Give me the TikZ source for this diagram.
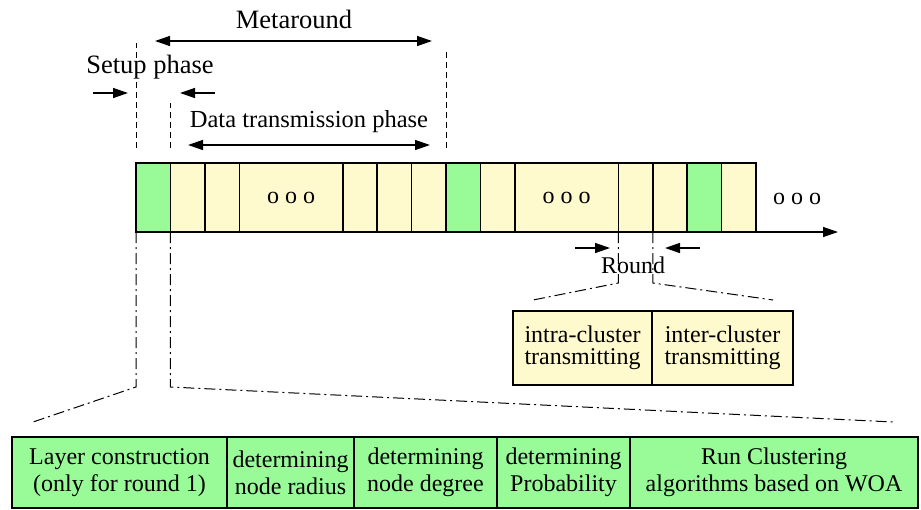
\documentclass[tikz,border=0pt]{standalone}
\usepackage{fontspec}
\setmainfont{Liberation Serif}
\usetikzlibrary{arrows.meta,positioning}
\definecolor{slotgreen}{RGB}{152,251,152}
\definecolor{slotyellow}{RGB}{255,250,205}
\tikzset{
    slot/.style={
           rectangle,
           draw=black, line width=1.6pt,
           fill=slotyellow,
           minimum width=34.45pt,
           minimum height=69pt,
           inner sep=0pt, outer sep=0pt,
           },
    setup/.style={slot, fill=slotgreen},
    wideslot/.style={slot, minimum width=103.35pt},
    cell/.style={
           rectangle,
           draw=black, line width=1.4pt,
           inner sep=0pt, outer sep=0pt,
           align=center,
           },
    phasecell/.style={cell, fill=slotgreen, minimum height=71pt},
    partcell/.style={cell, fill=slotyellow, minimum height=74pt,
           font=\fontsize{24pt}{22pt}\selectfont},
    bigtext/.style={font=\fontsize{26.5pt}{30pt}\selectfont},
    guide/.style={line width=1pt, dash pattern=on 6pt off 4pt},
    zoomline/.style={line width=1pt, dash pattern=on 11pt off 4pt on 2pt off 4pt},
}

\begin{document}
\begin{tikzpicture}[x=1pt, y=-1pt, >={Stealth[inset=0pt,length=15pt,width=10pt]},
    font=\fontsize{24pt}{27pt}\selectfont]
        \useasboundingbox (0,0) rectangle (921,509);

        % TIME LINE: one metaround after another
        \node[setup, anchor=north west] (s1) at (136,163) {};
        \node[slot, right=0pt of s1] (s2) {};
        \node[slot, right=0pt of s2] (s3) {};
        \node[wideslot, right=0pt of s3] (s4) {o o o};
        \node[slot, right=0pt of s4] (s5) {};
        \node[slot, right=0pt of s5] (s6) {};
        \node[slot, right=0pt of s6] (s7) {};
        % next metaround
        \node[setup, right=0pt of s7] (s8) {};
        \node[slot, right=0pt of s8] (s9) {};
        \node[wideslot, right=0pt of s9] (s10) {o o o};
        \node[slot, right=0pt of s10] (s11) {};
        \node[slot, right=0pt of s11] (s12) {};
        \node[setup, right=0pt of s12] (s13) {};
        \node[slot, right=0pt of s13] (s14) {};

        \coordinate (tend) at (838,232);
        \draw[->, line width=1.4pt] (s14.south east) -- (tend);
        \node (more) at (797,199) {o o o};

        % METAROUND
        \node[bigtext] (meta) at (294,19) {Metaround};
        \coordinate (metaL) at (155,41);
        \coordinate (metaR) at (432,41);
        \draw[<->, line width=1.4pt] (metaL) -- (metaR);
        \draw[guide] ([yshift=15pt]s1.north west) -- ([yshift=120pt]s1.north west);
        \draw[guide] ([yshift=15pt]s8.north west) -- ([yshift=113pt]s8.north west);
        \draw[guide] ([yshift=15pt]s2.north west) -- ([yshift=60pt]s2.north west);

        % SETUP PHASE
        \node[bigtext] (setuptxt) at (150,67) {Setup phase};
        \coordinate (su1) at (93,93);
        \coordinate (su2) at (128,93);
        \coordinate (su3) at (215,93);
        \coordinate (su4) at (180,93);
        \draw[->, line width=1.4pt] (su1) -- (su2);
        \draw[->, line width=1.4pt] (su3) -- (su4);

        % DATA TRANSMISSION PHASE
        \node[font=\fontsize{24.5pt}{28pt}\selectfont] (datatxt) at (309,122)
            {Data transmission phase};
        \coordinate (dtL) at (188,145);
        \coordinate (dtR) at (430,145);
        \draw[<->, line width=1.4pt] (dtL) -- (dtR);

        % ROUND
        \node (round) at (633,265) {Round};
        \coordinate (ra1) at (575,248);
        \coordinate (ra2) at (610,248);
        \coordinate (ra3) at (700,248);
        \coordinate (ra4) at (665,248);
        \draw[->, line width=1.4pt] (ra1) -- (ra2);
        \draw[->, line width=1.4pt] (ra3) -- (ra4);
        \coordinate (rndL) at (533,300);
        \coordinate (rndR) at (773,300);
        \draw[zoomline] (s11.south west) -- ([yshift=-51pt]s11.south west) -- (rndL);
        \draw[zoomline] (s12.south west) -- ([yshift=-51pt]s12.south west) -- (rndR);

        \node[partcell, minimum width=139pt, anchor=north west] (intra) at (513,311)
            {intra-cluster\\transmitting};
        \node[partcell, minimum width=141pt, right=0pt of intra] (inter)
            {inter-cluster\\transmitting};

        % SETUP PHASE IN DETAIL
        \coordinate (lowL) at (33,422);
        \coordinate (lowR) at (893,422);
        \draw[zoomline] (s1.south west) -- ([yshift=-155pt]s1.south west) -- (lowL);
        \draw[zoomline] (s2.south west) -- ([yshift=-155pt]s2.south west) -- (lowR);

        \node[phasecell, minimum width=215pt, anchor=north west] (layer) at (12,437)
            {Layer construction\\(only for round 1)};
        \node[phasecell, minimum width=127pt, right=0pt of layer] (radius)
            {determining\\node radius};
        \node[phasecell, minimum width=143pt, right=0pt of radius] (degree)
            {determining\\node degree};
        \node[phasecell, minimum width=133pt, right=0pt of degree] (prob)
            {determining\\Probability};
        \node[phasecell, minimum width=288pt, right=0pt of prob] (woa)
            {Run Clustering\\algorithms based on WOA};
\end{tikzpicture}
\end{document}
